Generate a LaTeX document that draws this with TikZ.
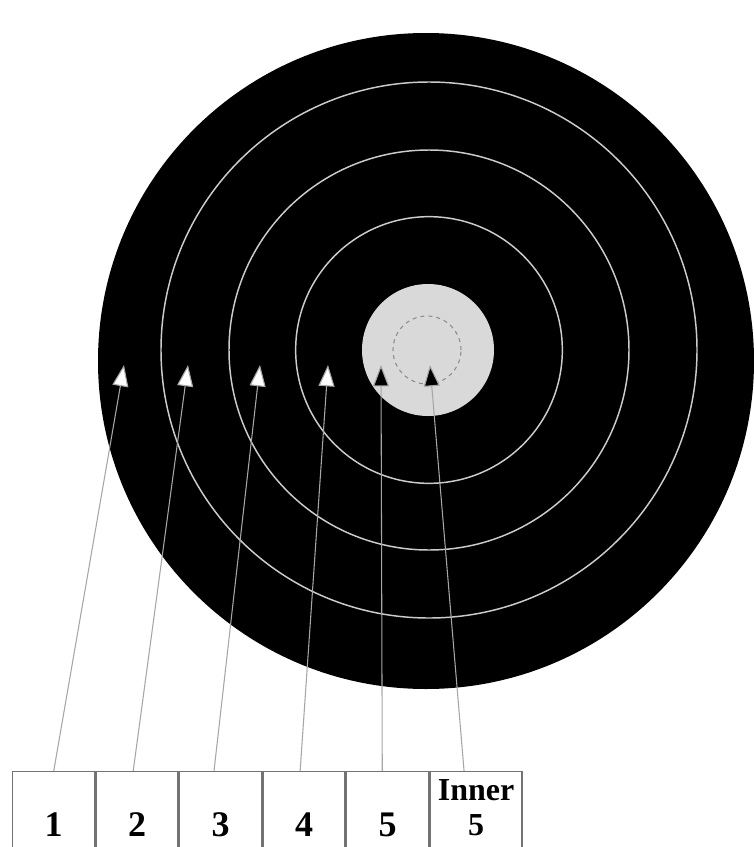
\documentclass[tikz,border=0pt]{standalone}
\usepackage{fontspec}
\setmainfont{Liberation Serif}
\usetikzlibrary{arrows.meta,positioning}

\begin{document}
\begin{tikzpicture}[
    x=0.75pt, y=-0.75pt,
    node distance=0pt,
    every node/.style={font=\bfseries\fontsize{27}{30}\selectfont},
    ring/.style={draw=white!80!black, line width=1.1pt},
    cell/.style={draw=black!55, line width=1.1pt, minimum width=61.5pt, minimum height=79.5pt, inner sep=0pt},
    shot/.style={-{Triangle[length=16pt, width=12pt, fill=white]}, draw=black!35, line width=0.8pt},
    shotin/.style={shot, -{Triangle[length=16pt, width=12pt, fill=black]}}
    ]
    \useasboundingbox (0,0) rectangle (754,847);
    \clip (0,0) rectangle (754,847);

    \fill[black] (426,361) circle[radius=246pt];
    \draw[ring] (429,350) circle[radius=201pt];
    \draw[ring] (429,350) circle[radius=150pt];
    \draw[ring] (429,350) circle[radius=100pt];
    \fill[white!85!black] (428,350) circle[radius=49.5pt];
    \draw[black!45, dashed, line width=0.8pt] (427,350) circle[radius=25.5pt];

    \coordinate (t1) at (124,365);
    \coordinate (t2) at (188,365);
    \coordinate (t3) at (260,365);
    \coordinate (t4) at (328,365);
    \coordinate (t5) at (381,365);
    \coordinate (t6) at (430,365);

    \node[cell, anchor=north west] (c1) at (12,771) {1};
    \node[cell, right=of c1] (c2) {2};
    \node[cell, right=of c2] (c3) {3};
    \node[cell, right=of c3] (c4) {4};
    \node[cell, right=of c4] (c5) {5};
    \node[cell, minimum width=69pt, right=of c5, font=\bfseries\fontsize{24}{26}\selectfont,
          label={[anchor=north, inner sep=1pt, yshift=-5pt, font=\bfseries\fontsize{24}{26}\selectfont]north:Inner}] (c6) {5};

    \draw[shot] (c1.north) -- (t1);
    \draw[shot] ([xshift=-3pt]c2.north) -- (t2);
    \draw[shot] ([xshift=-5pt]c3.north) -- (t3);
    \draw[shot] ([xshift=-3pt]c4.north) -- (t4);
    \draw[shotin] ([xshift=-4pt]c5.north) -- (t5);
    \draw[shotin] ([xshift=-9pt]c6.north) -- (t6);
\end{tikzpicture}
\end{document}
